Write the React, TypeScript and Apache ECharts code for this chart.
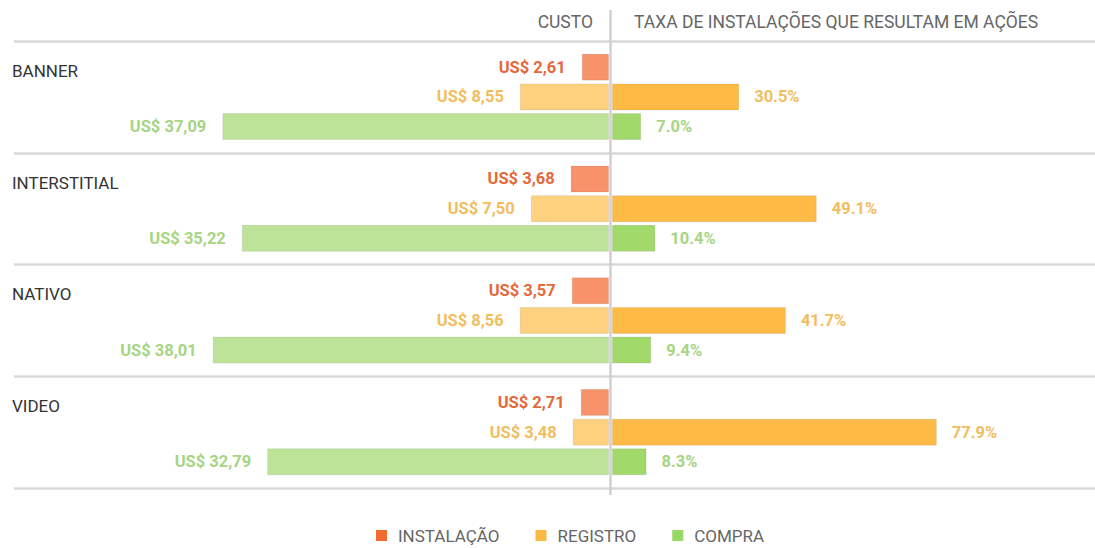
import React, { useEffect, useRef } from "react";
import * as echarts from "echarts";

const categories = ["BANNER", "INTERSTITIAL", "NATIVO", "VIDEO"];
const seriesNames = ["INSTALAÇÃO", "REGISTRO", "COMPRA"];
const installCost = [2.61, 3.68, 3.57, 2.71];
const registroCost = [8.55, 7.5, 8.56, 3.48];
const compraCost = [37.09, 35.22, 38.01, 32.79];
const installRate: (number | null)[] = [null, null, null, null];
const registroRate = [30.5, 49.1, 41.7, 77.9];
const compraRate = [7.0, 10.4, 9.4, 8.3];
const headerLeft = "CUSTO";
const headerRight = "TAXA DE INSTALAÇÕES QUE RESULTAM EM AÇÕES";

const FONT = "Roboto, 'Noto Sans', sans-serif";
const labelColors = ["#e5683b", "#f2bd5f", "#a6d584"];
const leftBarColors = ["#f7926a", "#fdd17d", "#bde398"];
const rightBarColors = ["#f7926a", "#fdbb45", "#a1d96a"];
const legendColors = ["#f36b2c", "#fbb943", "#97d867"];

export default function App() {
  const ref = useRef<HTMLDivElement>(null);
  useEffect(() => {
    if (!ref.current) return;
    const chart = echarts.init(ref.current, null, { renderer: "svg" });
    const barCommon = {
      type: "bar",
      barWidth: 27,
      barGap: "10%",
      itemStyle: { borderColor: "rgba(0,0,0,0.08)", borderWidth: 1 },
    };
    const costFmt = (p: any) => "US$ " + Number(p.value).toFixed(2).replace(".", ",");
    const rateFmt = (p: any) => Number(p.value).toFixed(1) + "%";
    const leftData = [installCost, registroCost, compraCost];
    const rightData = [installRate, registroRate, compraRate];
    const series: any[] = [];
    for (let i = 0; i < 3; i++) {
      series.push({
        ...barCommon,
        name: seriesNames[i],
        xAxisIndex: 0,
        yAxisIndex: 0,
        data: leftData[i],
        itemStyle: { ...barCommon.itemStyle, color: leftBarColors[i] },
        label: {
          show: true,
          position: "left",
          distance: 16,
          formatter: costFmt,
          color: labelColors[i],
          fontFamily: FONT,
          fontWeight: "bold",
          fontSize: 16.5,
        },
      });
    }
    for (let i = 0; i < 3; i++) {
      series.push({
        ...barCommon,
        name: seriesNames[i],
        xAxisIndex: 1,
        yAxisIndex: 1,
        data: rightData[i],
        itemStyle: { ...barCommon.itemStyle, color: rightBarColors[i] },
        label: {
          show: true,
          position: "right",
          distance: 15,
          formatter: rateFmt,
          color: labelColors[i],
          fontFamily: FONT,
          fontWeight: "bold",
          fontSize: 16.5,
        },
      });
    }
    const option: any = {
      animation: false,
      grid: [
        { left: 192, width: 417, top: 41, height: 447, containLabel: false },
        { left: 612, width: 417, top: 41, height: 447, containLabel: false },
        { left: 14, right: 0, top: 41, height: 447, containLabel: false },
      ],
      xAxis: [
        { type: "value", gridIndex: 0, min: 0, max: 40, inverse: true, show: false },
        { type: "value", gridIndex: 1, min: 0, max: 100, show: false },
        { type: "value", gridIndex: 2, min: 0, max: 1, show: false },
      ],
      yAxis: [
        {
          type: "category", gridIndex: 0, data: categories, inverse: true,
          axisLine: { show: false }, axisTick: { show: false }, axisLabel: { show: false },
          splitLine: { show: false },
        },
        {
          type: "category", gridIndex: 1, data: categories, inverse: true,
          axisLine: { show: false }, axisTick: { show: false }, axisLabel: { show: false },
          splitLine: { show: false },
        },
        {
          type: "category", gridIndex: 2, data: categories, inverse: true,
          axisLine: { show: false }, axisTick: { show: false },
          axisLabel: {
            show: true,
            align: "left",
            margin: 2,
            fontFamily: FONT,
            fontSize: 17,
            color: "#333",
            lineHeight: 52,
            formatter: (v: string) => v + "\n ",
          },
          splitLine: { show: true, lineStyle: { color: "#d8d8d8", width: 2.5 } },
          z: 0,
        },
      ],
      legend: {
        top: 527,
        left: 376,
        padding: 0,
        itemWidth: 11,
        itemHeight: 11,
        itemGap: 36,
        icon: "rect",
        textStyle: { fontFamily: FONT, fontSize: 17, color: "#666", padding: [0, 0, 0, 6] },
        data: seriesNames.map((n, i) => ({ name: n, itemStyle: { color: legendColors[i], borderWidth: 0 } })),
      },
      graphic: [
        {
          type: "line",
          shape: { x1: 610.5, y1: 10, x2: 610.5, y2: 495 },
          style: { stroke: "#d0d0d0", lineWidth: 2.5 },
          z: 100,
        },
        {
          type: "text",
          right: 1095 - 593,
          top: 13,
          style: { text: headerLeft, fontFamily: FONT, fontSize: 17.5, fill: "#666" },
        },
        {
          type: "text",
          left: 634,
          top: 13,
          style: { text: headerRight, fontFamily: FONT, fontSize: 17.5, fill: "#666" },
        },
      ],
      series,
    };
    chart.setOption(option);
    return () => chart.dispose();
  }, []);
  return (
    <div
      ref={ref}
      style={{ position: "fixed", left: 0, top: 0, width: 1095, height: 548, background: "#fff" }}
    />
  );
}
